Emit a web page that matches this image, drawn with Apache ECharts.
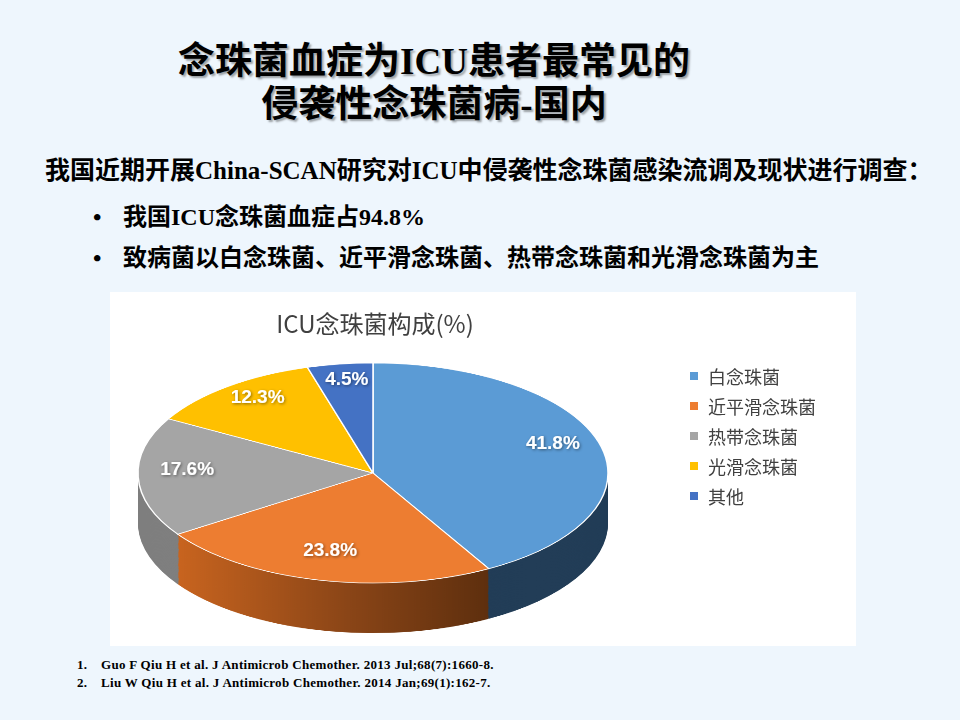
<!DOCTYPE html>
<html>
<head>
<meta charset="utf-8">
<script src="https://cdn.jsdelivr.net/npm/echarts@6/dist/echarts.min.js"></script>
<style>
  html, body { margin: 0; padding: 0; overflow: hidden; }
  body { width: 960px; height: 720px; background: #eef6fd; position: relative;
         font-family: "Liberation Serif", "Noto Sans CJK SC", serif; color: #000; }
  .title { position: absolute; left: 0; width: 868px; text-align: center; font-size: 37px;
           line-height: 43px; font-weight: bold; text-shadow: 2px 2px 2px rgba(0,0,0,0.35); }
  .line { position: absolute; font-weight: bold; white-space: nowrap; }
  .ref { position: absolute; font-size: 13px; font-weight: bold; white-space: nowrap; letter-spacing: 0.3px; }
  #panel { position: absolute; left: 110px; top: 292px; width: 746px; height: 354px; background: #fff; }
  #chart-body { position: absolute; left: 0; top: 223px; width: 960px; height: 600px;
                transform-origin: 0 250px; }
  #chart-front { position: absolute; left: 110px; top: 292px; width: 746px; height: 354px; }
</style>
</head>
<body>
<div class="title" style="top:40px">念珠菌血症为ICU患者最常见的</div>
<div class="title" style="top:83px">侵袭性念珠菌病-国内</div>
<div class="line" style="left:45px;top:155px;font-size:25px;line-height:32px">我国近期开展China-SCAN研究对ICU中侵袭性念珠菌感染流调及现状进行调查：</div>
<div class="line" style="left:93px;top:201px;font-size:24px;line-height:32px">•</div>
<div class="line" style="left:123px;top:201px;font-size:24px;line-height:32px">我国ICU念珠菌血症占94.8%</div>
<div class="line" style="left:93px;top:242px;font-size:24px;line-height:32px">•</div>
<div class="line" style="left:123px;top:242px;font-size:24px;line-height:32px">致病菌以白念珠菌、近平滑念珠菌、热带念珠菌和光滑念珠菌为主</div>
<div id="panel"></div>
<div id="chart-body"></div>
<div id="chart-front"></div>
<div class="ref" style="left:77px;top:657px">1.</div>
<div class="ref" style="left:101px;top:657px">Guo F Qiu H et al. J Antimicrob Chemother. 2013 Jul;68(7):1660-8.</div>
<div class="ref" style="left:77px;top:675px">2.</div>
<div class="ref" style="left:101px;top:675px">Liu W Qiu H et al. J Antimicrob Chemother. 2014 Jan;69(1):162-7.</div>
<script>
var categories = ['白念珠菌', '近平滑念珠菌', '热带念珠菌', '光滑念珠菌', '其他'];
var shares = [41.8, 23.8, 17.6, 12.3, 4.5];
var topColors = ['#5b9bd5', '#ed7d31', '#a5a5a5', '#ffc000', '#4472c4'];
var sideColors = ['#223d57', null, '#7f7f7f', '#a67c00', '#2b4a82'];

// tilt of the pie: vertical squash, and thickness in unscaled pixels
var K = 0.468;
var R = 235;
var DEPTH = 107;
var LAYERS = 45;

var orangeSide = new echarts.graphic.LinearGradient(0, 0, 1, 0, [
  { offset: 0, color: '#c8641f' },
  { offset: 0.55, color: '#8a4517' },
  { offset: 1, color: '#5e2f0e' }
]);

function sliceData(colors) {
  return categories.map(function (name, i) {
    return { name: name, value: shares[i], itemStyle: { color: colors[i] } };
  });
}

// --- body: side layers + top face, squashed with CSS ---
var bodyEl = document.getElementById('chart-body');
bodyEl.style.transform = 'scaleY(' + K + ')';
var chartBody = echarts.init(bodyEl, null, { renderer: 'canvas' });
var layers = [];
var sideFill = sideColors.slice();
sideFill[1] = orangeSide;
for (var i = LAYERS; i >= 1; i--) {
  layers.push({
    type: 'pie',
    silent: true,
    center: [373, 250 + DEPTH * i / LAYERS],
    radius: R,
    startAngle: 90,
    label: { show: false },
    labelLine: { show: false },
    itemStyle: { borderWidth: 0 },
    data: sliceData(sideFill)
  });
}
layers.push({
  type: 'pie',
  silent: true,
  center: [373, 250],
  radius: R,
  startAngle: 90,
  label: { show: false },
  labelLine: { show: false },
  itemStyle: { borderColor: '#ffffff', borderWidth: 1.5 },
  data: sliceData(topColors)
});
chartBody.setOption({ animation: false, series: layers });

// --- front: title, legend and value labels, unsquashed ---
var chartFront = echarts.init(document.getElementById('chart-front'), null, { renderer: 'svg' });
var CY = 181;
var clear = categories.map(function () { return 'rgba(0,0,0,0)'; });
chartFront.setOption({
  animation: false,
  title: {
    text: 'ICU念珠菌构成(%)',
    left: 260,
    top: 13,
    textAlign: 'center',
    textStyle: { color: '#404040', fontSize: 24, fontWeight: 'normal', fontFamily: 'Noto Sans CJK SC' }
  },
  legend: {
    orient: 'vertical',
    left: 575,
    top: 70,
    itemWidth: 8,
    itemHeight: 8,
    itemGap: 12,
    icon: 'rect',
    textStyle: { color: '#404040', fontSize: 18, fontFamily: 'Noto Sans CJK SC', padding: [0, 0, 0, 5] },
    data: categories.map(function (name, i) {
      return { name: name, itemStyle: { color: topColors[i] } };
    })
  },
  series: [{
    type: 'pie',
    silent: true,
    center: [263, CY],
    radius: [130, 236],
    startAngle: 90,
    label: {
      show: true,
      position: 'inside',
      color: '#ffffff',
      fontSize: 19,
      fontWeight: 'bold',
      fontFamily: 'Liberation Sans',
      textShadowColor: 'rgba(0,0,0,0.45)',
      textShadowBlur: 3,
      textShadowOffsetX: 1,
      textShadowOffsetY: 1,
      formatter: function (p) { return p.value.toFixed(1) + '%'; }
    },
    labelLine: { show: false },
    labelLayout: function (p) {
      var midX = p.labelRect.x + p.labelRect.width / 2;
      var midY = p.labelRect.y + p.labelRect.height / 2;
      return { x: midX, y: CY + (midY - CY) * K - 8 };
    },
    data: sliceData(clear)
  }]
});
</script>
</body>
</html>
